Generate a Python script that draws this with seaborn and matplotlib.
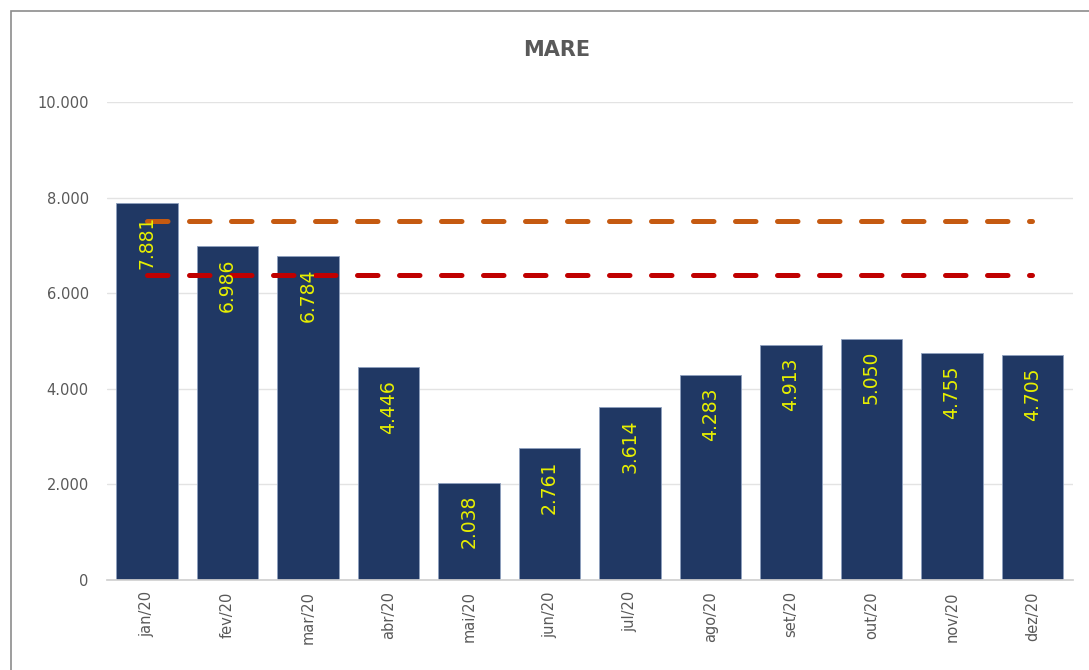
import matplotlib
matplotlib.use("Agg")
import matplotlib.pyplot as plt
import matplotlib.ticker as mticker
from matplotlib.patches import Rectangle
import seaborn as sns

# dados do grafico MARE
meses = ["jan/20", "fev/20", "mar/20", "abr/20", "mai/20", "jun/20",
         "jul/20", "ago/20", "set/20", "out/20", "nov/20", "dez/20"]
valores = [7881, 6986, 6784, 4446, 2038, 2761, 3614, 4283, 4913, 5050, 4755, 4705]
meta_laranja = 7500
meta_vermelha = 6380
linha_laranja = [meta_laranja] * len(meses)
linha_vermelha = [meta_vermelha] * len(meses)

sns.set_theme(style="white")
plt.rcParams['font.family'] = ['DejaVu Sans']

fig = plt.figure(figsize=(10.89, 6.7), dpi=100)
ax = fig.add_axes([0.098, 0.1343, 0.887, 0.7135])

sns.barplot(x=meses, y=valores, color="#203864", saturation=1, width=0.76,
            edgecolor="#8EA0BF", linewidth=0.6, ax=ax, zorder=2)

# linhas de meta
sns.lineplot(x=meses, y=linha_laranja, color="#C55A11", lw=3.6, ax=ax,
             dashes=False, zorder=4, sort=False)
sns.lineplot(x=meses, y=linha_vermelha, color="#C00000", lw=3.6, ax=ax,
             dashes=False, zorder=4, sort=False)
for ln in ax.lines:
    ln.set_dashes((4.1, 4.3))
    ln.set_dash_capstyle("round")

# rotulos dos valores
for i, v in enumerate(valores):
    ax.annotate(f"{v:,}".replace(",", "."), (i, v), xytext=(0, -9),
                textcoords="offset points", rotation=90, ha="center", va="top",
                color="#E8F000", fontsize=13.5, zorder=5)

ax.set_ylim(0, 10000)
ax.set_xlim(-0.5, len(meses) - 0.5)
ax.yaxis.set_major_locator(mticker.MultipleLocator(2000))
ax.yaxis.set_major_formatter(mticker.FuncFormatter(lambda v, p: f"{int(v):,}".replace(",", ".")))
ax.grid(axis="y", color="#E3E3E3", lw=1, zorder=0)
ax.set_axisbelow(True)
for s in ["top", "right", "left"]:
    ax.spines[s].set_visible(False)
ax.spines["bottom"].set_color("#D0D0D0")
ax.tick_params(axis="both", length=0, colors="#595959", labelsize=10.5)
ax.tick_params(axis="y", pad=13)
ax.tick_params(axis="x", pad=8)
plt.setp(ax.get_xticklabels(), rotation=90)
ax.set_xlabel("")
ax.set_ylabel("")

fig.text(0.511, 0.925, "MARE", ha="center", va="center", fontsize=15,
         fontweight="bold", color="#595959")

# moldura do grafico
fig.patches.append(Rectangle((0.0101, -0.05), 1.2, 1.0336, transform=fig.transFigure,
                             fill=False, edgecolor="#8C8C8C", lw=1.2))

fig.savefig("out.png", dpi=100)
